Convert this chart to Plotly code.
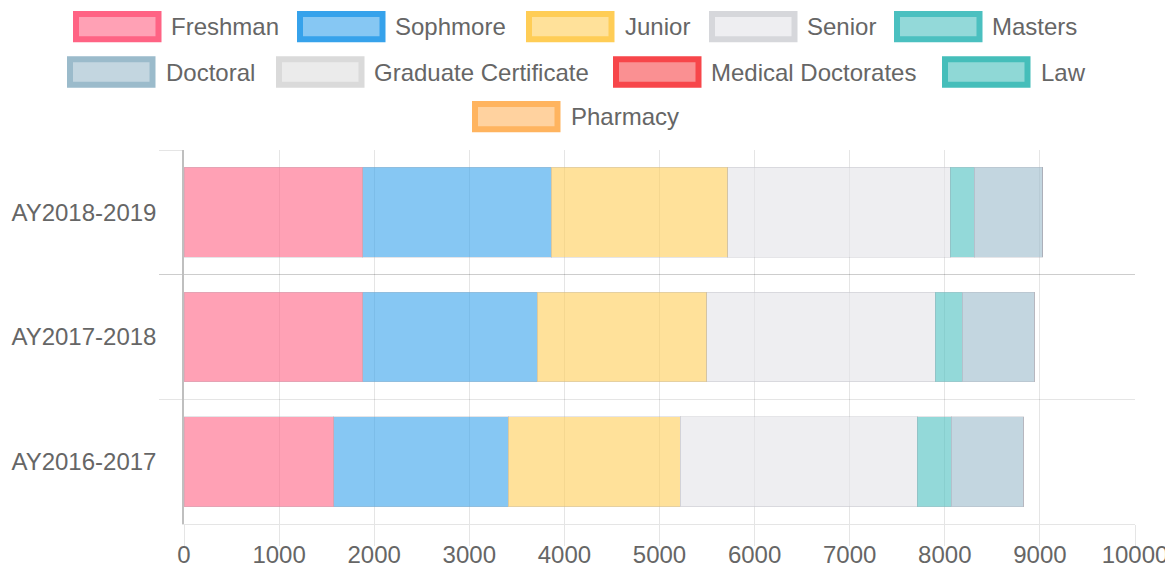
import plotly.graph_objects as go

# ---- data ----
categories = ["AY2018-2019", "AY2017-2018", "AY2016-2017"]
series_names = ["Freshman", "Sophmore", "Junior", "Senior", "Masters",
                "Doctoral", "Graduate Certificate", "Medical Doctorates",
                "Law", "Pharmacy"]
freshman = [1882, 1882, 1574]
sophmore = [1980, 1833, 1836]
junior = [1858, 1781, 1806]
senior = [2338, 2404, 2495]
masters = [249, 281, 358]
doctoral = [722, 757, 757]
graduate_certificate = [0, 0, 0]
medical_doctorates = [0, 0, 0]
law = [0, 0, 0]
pharmacy = [0, 0, 0]
series_values = [freshman, sophmore, junior, senior, masters, doctoral,
                 graduate_certificate, medical_doctorates, law, pharmacy]
x_ticks = [0, 1000, 2000, 3000, 4000, 5000, 6000, 7000, 8000, 9000, 10000]

# ---- styles ----
base_colors = [(255, 99, 132), (54, 162, 235), (255, 205, 86), (226, 227, 231),
               (75, 192, 192), (155, 187, 203), (222, 222, 222), (247, 70, 74),
               (69, 190, 186), (255, 180, 95)]
border_colors = [(255, 99, 132), (54, 162, 235), (255, 205, 86), (214, 215, 219),
                 (75, 192, 192), (155, 187, 203), (218, 218, 218), (247, 70, 74),
                 (69, 190, 186), (255, 180, 95)]


def rgba(c, a):
    return f"rgba({c[0]},{c[1]},{c[2]},{a})"


FONT = "Liberation Sans, Helvetica, Arial, sans-serif"
TXT = "#666666"
OFF = 8  # page body margin
W, H = 1173 - OFF, 570 - OFF
# plot area in page pixels: x 184..1135, y 150..524
ML = 184 - OFF
MT = 150 - OFF
MR = W - (1135 - OFF)
MB = H - (524 - OFF)
PW, PH = W - ML - MR, H - MT - MB

fig = go.Figure()
for name, vals, c in zip(series_names, series_values, base_colors):
    fig.add_trace(go.Bar(
        y=categories, x=vals, name=name, orientation="h",
        marker=dict(color=rgba(c, 0.6),
                    line=dict(color="rgba(170,170,180,0.3)", width=1)),
        showlegend=False,
    ))

# ---- manual legend (Chart.js style wide boxes), page-pixel positions ----
legend_rows = [
    [(0, 73, 171), (1, 297, 395), (2, 526, 625), (3, 709, 807), (4, 894, 992)],
    [(5, 67, 166), (6, 276, 374), (7, 613, 711), (8, 942, 1041)],
    [(9, 472, 571)],
]
row_centers = [26.7, 72, 116.7]
box_w, box_h, bw = 88.5, 31.3, 6


def px_x(p):
    return (p - OFF - ML) / PW


def px_y(p):
    return (H - MB - (p - OFF)) / PH


shapes = []
annotations = []
for row, cy in zip(legend_rows, row_centers):
    for idx, bx, tx in row:
        x0 = bx + bw / 2
        x1 = bx + box_w - bw / 2
        y0 = cy - box_h / 2 + bw / 2
        y1 = cy + box_h / 2 - bw / 2
        shapes.append(dict(
            type="rect", xref="paper", yref="paper",
            x0=px_x(x0), x1=px_x(x1), y0=px_y(y1), y1=px_y(y0),
            fillcolor=rgba(base_colors[idx], 0.6),
            line=dict(color=rgba(border_colors[idx], 1), width=bw),
            layer="above",
        ))
        annotations.append(dict(
            xref="paper", yref="paper", x=px_x(tx - 1), y=px_y(cy),
            text=series_names[idx], showarrow=False,
            xanchor="left", yanchor="middle", borderpad=0,
            font=dict(family=FONT, size=24, color=TXT),
        ))

grid_c = "rgba(0,0,0,0.1)"
fig.update_layout(
    width=W, height=H,
    margin=dict(l=ML, r=MR, t=MT, b=MB, pad=0, autoexpand=False),
    barmode="stack", bargap=0.28,
    plot_bgcolor="white", paper_bgcolor="white",
    font=dict(family=FONT, size=24, color=TXT),
    shapes=shapes, annotations=annotations,
    xaxis=dict(
        range=[0, 10000], tickvals=x_ticks, ticktext=[str(v) for v in x_ticks],
        showgrid=True, gridcolor=grid_c, gridwidth=1,
        ticks="outside", ticklen=21, tickcolor=grid_c, tickwidth=1,
        ticklabelstandoff=-12,
        showline=True, linecolor=grid_c, linewidth=1,
        zeroline=False, tickfont=dict(size=24, color=TXT), automargin=False,
    ),
    yaxis=dict(
        type="category", categoryorder="array", categoryarray=categories,
        autorange="reversed", tickson="boundaries",
        showgrid=True, gridcolor=grid_c, gridwidth=1,
        ticks="outside", ticklen=23, tickcolor=grid_c, tickwidth=1,
        ticklabelstandoff=21,
        showline=True, linecolor="rgba(0,0,0,0.25)", linewidth=1.5,
        zeroline=False, tickfont=dict(size=24, color=TXT), automargin=False,
    ),
)

fig.write_html("out.html")
